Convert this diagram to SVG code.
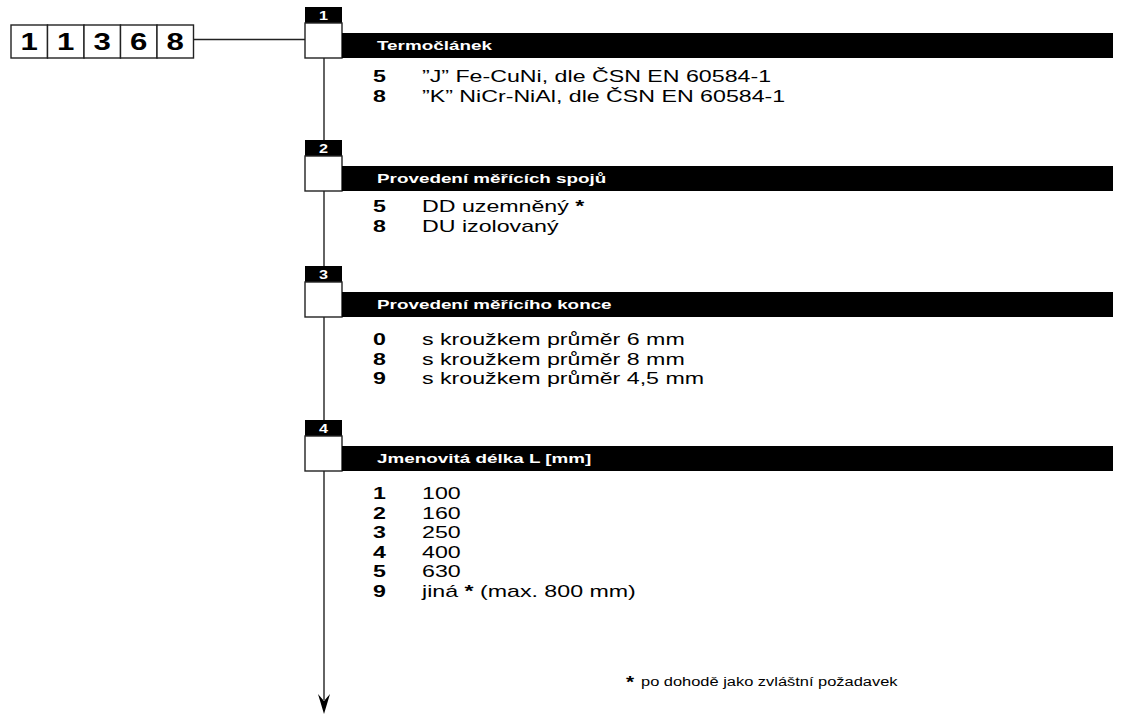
<svg xmlns="http://www.w3.org/2000/svg" width="1121" height="715" viewBox="0 0 1121 715">
<style>
text{font-family:"Liberation Sans",Arial,sans-serif;fill:#000}
.code{font-size:24px;font-weight:bold;text-anchor:middle}
.lab{font-size:12px;font-weight:bold;fill:#fff;text-anchor:middle}
.hdr{font-size:13px;font-weight:bold;fill:#fff}
.num{font-size:16px;font-weight:bold}
.it{font-size:16px}
.fn{font-size:12px}
.b{font-weight:bold}
.box{fill:#fff;stroke:#222;stroke-width:1.4}
.blk{fill:#000}
.ln{stroke:#222;stroke-width:1.4;fill:none}
</style>
<g id="code">
<rect class="box" x="11" y="25" width="36.5" height="33"/>
<rect class="box" x="47.5" y="25" width="36.5" height="33"/>
<rect class="box" x="84" y="25" width="36.5" height="33"/>
<rect class="box" x="120.5" y="25" width="36.5" height="33"/>
<rect class="box" x="157" y="25" width="36.5" height="33"/>
<text class="code" transform="translate(29.25,50) scale(1.3,1)">1</text>
<text class="code" transform="translate(65.75,50) scale(1.3,1)">1</text>
<text class="code" transform="translate(102.25,50) scale(1.3,1)">3</text>
<text class="code" transform="translate(138.75,50) scale(1.3,1)">6</text>
<text class="code" transform="translate(175.25,50) scale(1.3,1)">8</text>
</g>
<g id="connectors">
<line class="ln" x1="193.5" y1="39.5" x2="305" y2="39.5"/>
<line class="ln" x1="324" y1="58" x2="324" y2="140"/>
<line class="ln" x1="324" y1="191" x2="324" y2="266"/>
<line class="ln" x1="324" y1="317" x2="324" y2="420"/>
<line class="ln" x1="324" y1="471" x2="324" y2="700"/>
<path class="blk" d="M324,714 L318,694 L324,701 L330,694 Z"/>
</g>
<g id="sec1">
<rect class="blk" x="305" y="7" width="37" height="16"/>
<text class="lab" transform="translate(323.5,20) scale(1.35,1)">1</text>
<rect class="box" x="305" y="23" width="37" height="35"/>
<rect class="blk" x="342" y="33" width="771" height="25"/>
<text class="hdr" transform="translate(377,50) scale(1.45,1)">Termočlánek</text>
<text class="num" transform="translate(373,82) scale(1.45,1)">5</text>
<text class="it" transform="translate(422,82) scale(1.45,1)">”J” Fe-CuNi, dle ČSN EN 60584-1</text>
<text class="num" transform="translate(373,101.5) scale(1.45,1)">8</text>
<text class="it" transform="translate(422,101.5) scale(1.45,1)">”K” NiCr-NiAl, dle ČSN EN 60584-1</text>
</g>
<g id="sec2">
<rect class="blk" x="305" y="140" width="37" height="16"/>
<text class="lab" transform="translate(323.5,153) scale(1.35,1)">2</text>
<rect class="box" x="305" y="156" width="37" height="35"/>
<rect class="blk" x="342" y="166" width="771" height="25"/>
<text class="hdr" transform="translate(377,183) scale(1.45,1)">Provedení měřících spojů</text>
<text class="num" transform="translate(373,212) scale(1.45,1)">5</text>
<text class="it" transform="translate(422,212) scale(1.45,1)">DD uzemněný <tspan class="b">*</tspan></text>
<text class="num" transform="translate(373,231.5) scale(1.45,1)">8</text>
<text class="it" transform="translate(422,231.5) scale(1.45,1)">DU izolovaný</text>
</g>
<g id="sec3">
<rect class="blk" x="305" y="266" width="37" height="16"/>
<text class="lab" transform="translate(323.5,279) scale(1.35,1)">3</text>
<rect class="box" x="305" y="282" width="37" height="35"/>
<rect class="blk" x="342" y="292" width="771" height="25"/>
<text class="hdr" transform="translate(377,309) scale(1.45,1)">Provedení měřícího konce</text>
<text class="num" transform="translate(373,345) scale(1.45,1)">0</text>
<text class="it" transform="translate(422,345) scale(1.45,1)">s kroužkem průměr 6 mm</text>
<text class="num" transform="translate(373,364.5) scale(1.45,1)">8</text>
<text class="it" transform="translate(422,364.5) scale(1.45,1)">s kroužkem průměr 8 mm</text>
<text class="num" transform="translate(373,384) scale(1.45,1)">9</text>
<text class="it" transform="translate(422,384) scale(1.45,1)">s kroužkem průměr 4,5 mm</text>
</g>
<g id="sec4">
<rect class="blk" x="305" y="420" width="37" height="16"/>
<text class="lab" transform="translate(323.5,433) scale(1.35,1)">4</text>
<rect class="box" x="305" y="436" width="37" height="35"/>
<rect class="blk" x="342" y="446" width="771" height="25"/>
<text class="hdr" transform="translate(377,463) scale(1.45,1)">Jmenovitá délka L [mm]</text>
<text class="num" transform="translate(373,499) scale(1.45,1)">1</text>
<text class="it" transform="translate(422,499) scale(1.45,1)">100</text>
<text class="num" transform="translate(373,518.5) scale(1.45,1)">2</text>
<text class="it" transform="translate(422,518.5) scale(1.45,1)">160</text>
<text class="num" transform="translate(373,538) scale(1.45,1)">3</text>
<text class="it" transform="translate(422,538) scale(1.45,1)">250</text>
<text class="num" transform="translate(373,557.5) scale(1.45,1)">4</text>
<text class="it" transform="translate(422,557.5) scale(1.45,1)">400</text>
<text class="num" transform="translate(373,577) scale(1.45,1)">5</text>
<text class="it" transform="translate(422,577) scale(1.45,1)">630</text>
<text class="num" transform="translate(373,596.5) scale(1.45,1)">9</text>
<text class="it" transform="translate(422,596.5) scale(1.45,1)">jiná <tspan class="b">*</tspan> (max. 800 mm)</text>
</g>
<g id="footnote">
<text class="b" font-size="16" transform="translate(626,688) scale(1.3,1)">*</text>
<text class="fn" transform="translate(641,686) scale(1.37,1)">po dohodě jako zvláštní požadavek</text>
</g>
</svg>
